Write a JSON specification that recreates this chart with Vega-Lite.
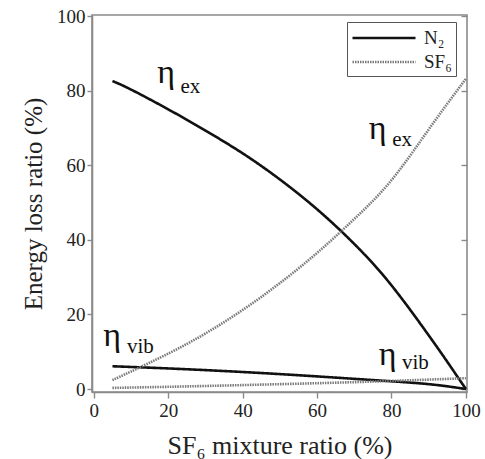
{
  "$schema": "https://vega.github.io/schema/vega-lite/v6.json",
  "width": 375,
  "height": 377,
  "autosize": {"type": "none"},
  "padding": {"left": 92, "top": 15, "right": 18, "bottom": 67},
  "background": "white",
  "config": {
    "view": {"stroke": "#8a8a8a", "strokeWidth": 1.6},
    "font": "Liberation Serif",
    "axis": {
      "labelFont": "Liberation Serif",
      "labelFontSize": 19,
      "labelColor": "#222",
      "titleFont": "Liberation Serif",
      "titleFontSize": 25,
      "titleFontWeight": "normal",
      "titleColor": "#222",
      "domainColor": "#8a8a8a",
      "domainWidth": 1.6,
      "tickColor": "#8a8a8a",
      "tickWidth": 1.4,
      "grid": false
    },
    "legend": {
      "orient": "none",
      "legendX": 255,
      "legendY": 7,
      "strokeColor": "#555",
      "fillColor": "white",
      "padding": 4,
      "labelFont": "Liberation Serif",
      "labelFontSize": 19,
      "labelColor": "#222",
      "symbolType": "M-1,0H5",
      "symbolSize": 441,
      "symbolStrokeWidth": 2.5,
      "rowPadding": 2,
      "labelOffset": 49
    }
  },
  "datasets": {
    "curves": [
      {"gas": "N₂", "kind": "ex", "ratio": 5, "loss": 82.6},
      {"gas": "N₂", "kind": "ex", "ratio": 10, "loss": 80.3},
      {"gas": "N₂", "kind": "ex", "ratio": 20, "loss": 75.0},
      {"gas": "N₂", "kind": "ex", "ratio": 30, "loss": 69.3},
      {"gas": "N₂", "kind": "ex", "ratio": 40, "loss": 63.2},
      {"gas": "N₂", "kind": "ex", "ratio": 50, "loss": 56.2},
      {"gas": "N₂", "kind": "ex", "ratio": 60, "loss": 48.2},
      {"gas": "N₂", "kind": "ex", "ratio": 70, "loss": 38.9},
      {"gas": "N₂", "kind": "ex", "ratio": 80, "loss": 27.8},
      {"gas": "N₂", "kind": "ex", "ratio": 90, "loss": 14.4},
      {"gas": "N₂", "kind": "ex", "ratio": 95, "loss": 7.3},
      {"gas": "N₂", "kind": "ex", "ratio": 100, "loss": 0},
      {"gas": "N₂", "kind": "vib", "ratio": 5, "loss": 6.1},
      {"gas": "N₂", "kind": "vib", "ratio": 25, "loss": 5.3},
      {"gas": "N₂", "kind": "vib", "ratio": 50, "loss": 4.0},
      {"gas": "N₂", "kind": "vib", "ratio": 75, "loss": 2.4},
      {"gas": "N₂", "kind": "vib", "ratio": 90, "loss": 1.3},
      {"gas": "N₂", "kind": "vib", "ratio": 100, "loss": 0},
      {"gas": "SF₆", "kind": "ex", "ratio": 5, "loss": 2.4},
      {"gas": "SF₆", "kind": "ex", "ratio": 10, "loss": 4.7},
      {"gas": "SF₆", "kind": "ex", "ratio": 20, "loss": 9.5},
      {"gas": "SF₆", "kind": "ex", "ratio": 30, "loss": 14.9},
      {"gas": "SF₆", "kind": "ex", "ratio": 40, "loss": 21.2},
      {"gas": "SF₆", "kind": "ex", "ratio": 50, "loss": 28.4},
      {"gas": "SF₆", "kind": "ex", "ratio": 60, "loss": 36.5},
      {"gas": "SF₆", "kind": "ex", "ratio": 70, "loss": 45.6},
      {"gas": "SF₆", "kind": "ex", "ratio": 80, "loss": 56.0},
      {"gas": "SF₆", "kind": "ex", "ratio": 90, "loss": 69.6},
      {"gas": "SF₆", "kind": "ex", "ratio": 100, "loss": 83.2},
      {"gas": "SF₆", "kind": "vib", "ratio": 5, "loss": 0.3},
      {"gas": "SF₆", "kind": "vib", "ratio": 25, "loss": 0.7},
      {"gas": "SF₆", "kind": "vib", "ratio": 50, "loss": 1.3},
      {"gas": "SF₆", "kind": "vib", "ratio": 75, "loss": 2.0},
      {"gas": "SF₆", "kind": "vib", "ratio": 100, "loss": 2.9}
    ],
    "etaLabels": [
      {"ratio": 19.4, "loss": 82.0},
      {"ratio": 76.3, "loss": 67.0},
      {"ratio": 4.9, "loss": 11.6},
      {"ratio": 79.0, "loss": 6.4}
    ],
    "subLabels": [
      {"ratio": 23.3, "loss": 79.4, "sub": "ex"},
      {"ratio": 80.2, "loss": 65.2, "sub": "ex"},
      {"ratio": 8.9, "loss": 9.6, "sub": "vib"},
      {"ratio": 82.8, "loss": 5.4, "sub": "vib"}
    ]
  },
  "layer": [
    {
      "data": {"name": "curves"},
      "mark": {"type": "line", "strokeWidth": 2.6, "clip": true, "interpolate": "natural"},
      "encoding": {
        "x": {
          "field": "ratio", "type": "quantitative",
          "scale": {"domain": [-0.5, 100.3], "nice": false, "zero": false},
          "axis": {"values": [0, 20, 40, 60, 80, 100], "tickSize": 6, "labelPadding": 3, "title": "SF₆ mixture ratio (%)", "titlePadding": 12, "titleFontSize": 26}
        },
        "y": {
          "field": "loss", "type": "quantitative",
          "scale": {"domain": [-0.8, 100.3], "nice": false, "zero": false},
          "axis": {"values": [0, 20, 40, 60, 80, 100], "tickSize": 5, "labelPadding": 2, "title": "Energy loss ratio (%)", "titlePadding": 10}
        },
        "color": {
          "field": "gas", "type": "nominal", "title": null,
          "scale": {"domain": ["N₂", "SF₆"], "range": ["#111111", "#7a7a7a"]}
        },
        "strokeDash": {
          "field": "gas", "type": "nominal", "title": null,
          "scale": {"domain": ["N₂", "SF₆"], "range": [[1, 0], [1.5, 1]]}
        },
        "detail": {"field": "kind"},
        "order": {"field": "ratio", "type": "quantitative"}
      }
    },
    {
      "data": {"name": "etaLabels"},
      "mark": {"type": "text", "text": "η", "font": "Liberation Serif", "fontSize": 34, "align": "center", "baseline": "alphabetic", "color": "#111"},
      "encoding": {
        "x": {"field": "ratio", "type": "quantitative", "axis": null},
        "y": {"field": "loss", "type": "quantitative", "axis": null}
      }
    },
    {
      "data": {"name": "subLabels"},
      "mark": {"type": "text", "font": "Liberation Serif", "fontSize": 21, "align": "left", "baseline": "alphabetic", "color": "#111"},
      "encoding": {
        "x": {"field": "ratio", "type": "quantitative", "axis": null},
        "y": {
          "field": "loss", "type": "quantitative",
          "axis": {"orient": "right", "values": [0, 20, 40, 60, 80, 100], "labels": false, "domain": false, "tickSize": 6, "offset": -6, "title": null}
        },
        "text": {"field": "sub"}
      }
    }
  ],
  "resolve": {"axis": {"x": "independent", "y": "independent"}}
}
